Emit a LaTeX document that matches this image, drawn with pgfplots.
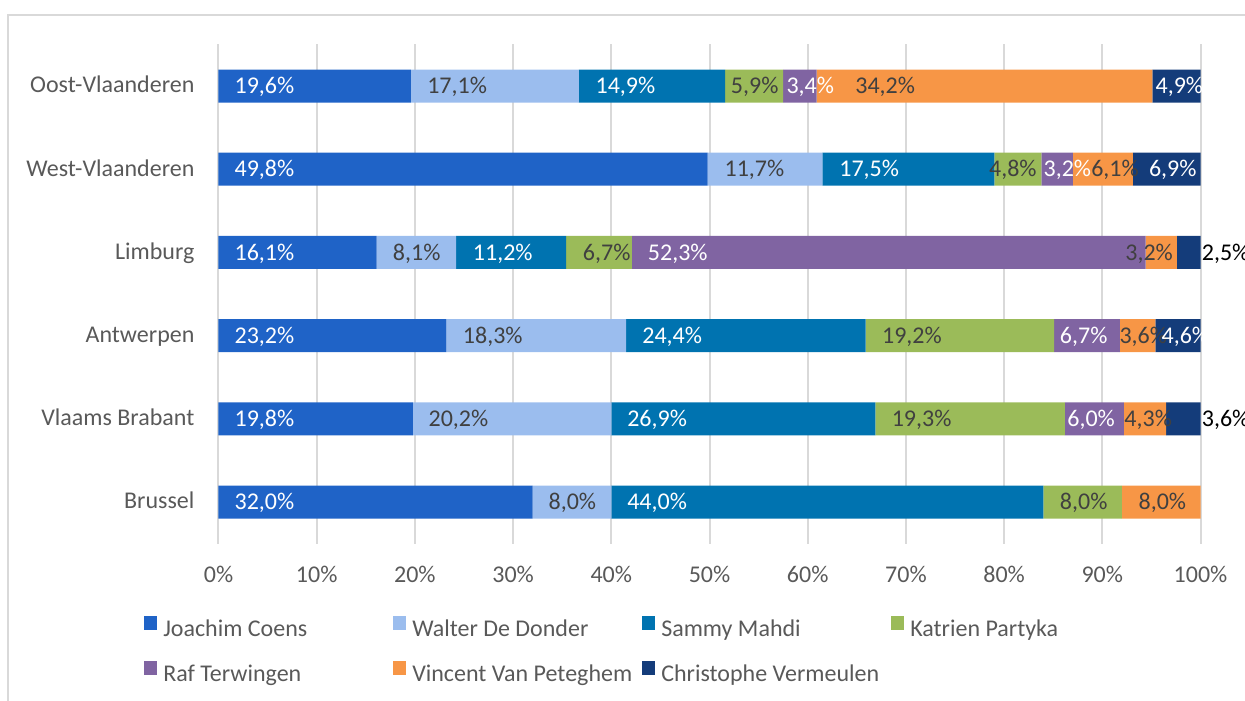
\documentclass[border=0pt]{standalone}
\usepackage{pgfplots}
\pgfplotsset{compat=1.18}
\usepackage{pgfplotstable}
\usepackage{fontspec}
\setmainfont{Carlito}
\newcommand\fsz{\fontsize{12pt}{14pt}\selectfont}
\definecolor{cJC}{HTML}{1F63C7}
\definecolor{cWD}{HTML}{9BBDEE}
\definecolor{cSM}{HTML}{0073B0}
\definecolor{cKP}{HTML}{9BBB59}
\definecolor{cRT}{HTML}{8064A2}
\definecolor{cVVP}{HTML}{F79646}
\definecolor{cCV}{HTML}{143C7A}
\definecolor{txt}{HTML}{595959}
\definecolor{labc}{HTML}{404040}
\definecolor{grd}{HTML}{D9D9D9}

\pgfplotstableread{
y JC WD SM KP RT VVP CV
0 32.0 8.0 44.0 8.0 0 8.0 0
1 19.8 20.2 26.9 19.3 6.0 4.3 3.6
2 23.2 18.3 24.4 19.2 6.7 3.6 4.6
3 16.1 8.1 11.2 6.7 52.3 3.2 2.5
4 49.8 11.7 17.5 4.8 3.2 6.1 6.9
5 19.6 17.1 14.9 5.9 3.4 34.2 4.9
}\data

% label positions (x = start of label text, in %)
\pgfplotstableread{
x y lab
1.60 5 19,6
1.60 4 49,8
1.60 3 16,1
1.60 2 23,2
1.60 1 19,8
1.60 0 32,0
}\labJC
\pgfplotstableread{
x y lab
21.22 5 17,1
51.50 4 11,7
17.72 3 8,1
24.85 2 18,3
21.36 1 20,2
33.58 0 8,0
}\labWD
\pgfplotstableread{
x y lab
38.36 5 14,9
63.18 4 17,5
25.87 3 11,2
43.12 2 24,4
41.59 1 26,9
41.59 0 44,0
}\labSM
\pgfplotstableread{
x y lab
52.14 5 5,9
78.43 4 4,8
37.07 3 6,7
67.54 2 19,2
68.52 1 19,3
85.65 0 8,0
}\labKP
\pgfplotstableread{
x y lab
57.80 5 3,4
83.98 4 3,2
43.69 3 52,3
85.65 2 6,7
86.40 1 6,0
}\labRT
\pgfplotstableread{
x y lab
64.81 5 34,2
88.84 4 6,1
92.31 3 3,2
91.71 2 3,6
92.21 1 4,3
93.66 0 8,0
}\labVVP
\pgfplotstableread{
x y lab
95.39 5 4,9
94.72 4 6,9
96.00 2 4,6
}\labCV
\pgfplotstableread{
x y lab
100.10 3 2,5
100.10 1 3,6
}\labCVout

\begin{document}
\begin{tikzpicture}
\useasboundingbox (-109.25pt,-78.2pt) rectangle (513.25pt,271.8pt);
\draw[grd, line width=0.75pt] (-105.25pt,-120pt) -- (-105.25pt,264.3pt) -- (600pt,264.3pt);
\begin{axis}[
  at={(0,0)}, anchor=south west,
  scale only axis, width=491pt, height=249.6pt,
  xbar stacked, bar width=16.5pt,
  xmin=0, xmax=100, ymin=-0.5, ymax=5.5,
  xtick={0,10,...,100},
  xticklabels={0\%,10\%,20\%,30\%,40\%,50\%,60\%,70\%,80\%,90\%,100\%},
  ytick={0,...,5},
  yticklabels={Brussel,Vlaams Brabant,Antwerpen,Limburg,West-Vlaanderen,Oost-Vlaanderen},
  major tick length=0pt,
  axis line style={draw=none},
  xmajorgrids, grid style={grd, line width=1pt},
  tick label style={font=\fsz, text=txt, inner sep=0pt},
  xticklabel style={anchor=base, yshift=-19.35pt},
  yticklabel style={anchor=base east, xshift=-11.85pt, yshift=-3.4pt},
  legend columns=4,
  legend cell align=left,
  legend image code/.code={\fill[#1] (0pt,0.2pt) rectangle (6.8pt,7pt);},
  legend style={at={(axis description cs:-0.0766,-0.145)}, anchor=north west,
    draw=none, fill=none, inner sep=0pt, row sep=10pt, column sep=0pt,
    font=\fsz,
    nodes={inner sep=0pt, text height=8.5pt, text depth=2.5pt, text=txt, font=\fsz},
    /tikz/every odd column/.append style={column sep=3pt}},
]
\addplot[fill=cJC, draw=none] table[x=JC, y=y] {\data};
\addplot[fill=cWD, draw=none] table[x=WD, y=y] {\data};
\addplot[fill=cSM, draw=none] table[x=SM, y=y] {\data};
\addplot[fill=cKP, draw=none] table[x=KP, y=y] {\data};
\addplot[fill=cRT, draw=none] table[x=RT, y=y] {\data};
\addplot[fill=cVVP, draw=none] table[x=VVP, y=y] {\data};
\addplot[fill=cCV, draw=none] table[x=CV, y=y] {\data};
\legend{\makebox[114.7pt][l]{Joachim Coens},\makebox[114.7pt][l]{Walter De Donder},\makebox[114.7pt][l]{Sammy Mahdi},\makebox[114.7pt][l]{Katrien Partyka},\makebox[114.7pt][l]{Raf Terwingen},\makebox[114.7pt][l]{Vincent Van Peteghem},\makebox[114.7pt][l]{Christophe Vermeulen}}
\end{axis}
\begin{axis}[
  at={(0,0)}, anchor=south west,
  scale only axis, width=491pt, height=249.6pt,
  xmin=0, xmax=100, ymin=-0.5, ymax=5.5,
  hide axis, clip=false,
  point meta=explicit symbolic,
  nodes near coords={\pgfplotspointmeta\%},
  every node near coord/.append style={anchor=base west, inner sep=0pt, yshift=-3.8pt, font=\fsz},
]
\addplot[draw=none, mark=none, every node near coord/.append style={text=white}] table[x=x,y=y,meta=lab] {\labJC};
\addplot[draw=none, mark=none, every node near coord/.append style={text=labc}] table[x=x,y=y,meta=lab] {\labWD};
\addplot[draw=none, mark=none, every node near coord/.append style={text=white}] table[x=x,y=y,meta=lab] {\labSM};
\addplot[draw=none, mark=none, every node near coord/.append style={text=labc}] table[x=x,y=y,meta=lab] {\labKP};
\addplot[draw=none, mark=none, every node near coord/.append style={text=white}] table[x=x,y=y,meta=lab] {\labRT};
\addplot[draw=none, mark=none, every node near coord/.append style={text=labc}] table[x=x,y=y,meta=lab] {\labVVP};
\addplot[draw=none, mark=none, every node near coord/.append style={text=white}] table[x=x,y=y,meta=lab] {\labCV};
\addplot[draw=none, mark=none, every node near coord/.append style={text=black}] table[x=x,y=y,meta=lab] {\labCVout};
\end{axis}
\end{tikzpicture}
\end{document}
